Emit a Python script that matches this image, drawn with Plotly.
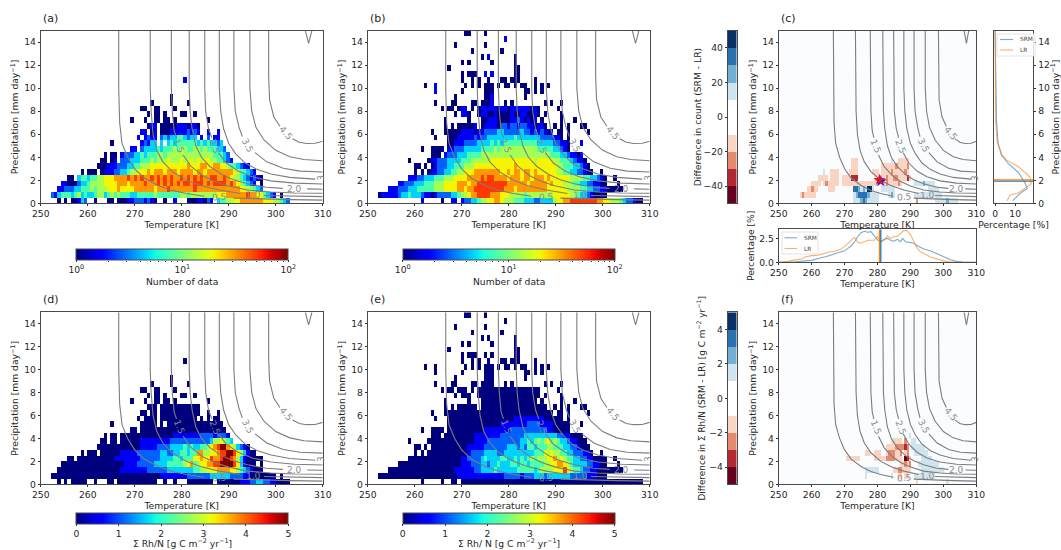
import numpy as np
import plotly.graph_objects as go

W, H = 1061, 550
N_COLS, N_ROWS = 85, 30
T_MIN, T_MAX, P_MIN, P_MAX = 250, 310, 0, 15
TEMP_TICKS = [250, 260, 270, 280, 290, 300, 310]
PREC_TICKS = [0, 2, 4, 6, 8, 10, 12, 14]

# heat map rows: (row of 0.5 mm/day, first 0.706 K column, level digit per cell, '.' = empty); later entries overwrite
A_ROWS = [
 (21,43,"1"),(18,39,"0"),(17,33,"0.....0....0"),(16,30,"00..00....0"),
 (15,32,"0.00.0....00..0"),(14,27,"0...0..00.00.0.........0"),
 (13,32,"011.000001110110"),(12,30,"11.01.000111112121..1..1"),
 (11,29,"1.1211.23233443233.1.2.11"),(10,21,"0........12133.3.34344444434343323"),
 (9,27,"11.23333434445455445545444332"),
 (8,19,"0.00.122233434445545555555555555544432"),
 (7,18,"00.01.2223334445455565556556565665544321"),
 (6,17,"0001112223344555666666666667666776677665443211"),
 (5,12,"0.000.01112233455666767776777677776776777777776544321"),
 (4,8,"00.34434455666777787878778787878778787878778877876554321210"),
 (3,6,"11000233455556666777677778777878787878878887878888787654321.0"),
 (2,5,"11222334445455566676666777777677787777777877777777777776655432"),
 (1,3,"213444345343345534545444334444454444444554555555556667777778776643 21.0".replace(" ","")),
 (0,5,"0.0.00132..0...00.000112221210..0..1...00011021.3445566777777766655432"),
]
B_ROWS = [
 (29,29,"00....0"),(28,41,"1"),(27,26,"0........0"),(26,31,"0........0"),(25,34,"0.1.......0"),
 (24,28,"0.0......0......0"),(23,24,"0...................00"),(22,28,"0.000..1.1......00"),
 (21,28,"0..0.0..0...00.000....0"),(20,17,"0..1........0.0.0.000.0.00.0.00..0.0.0"),
 (19,20,"1.......0......000.........00.0.0"),(18,26,"0........001.........0"),
 (17,20,"0....00....00.0001...0.0.........0.0..0"),
 (16,22,"0.00.011.0.0111110110111111010.....0"),
 (15,26,"0.110..0110010000100110010.0....0"),
 (14,23,"0......0...00111000011210101.0.....0...0"),
 (13,23,"0.0.000001.01111022122122110110..0.0.0...00"),
 (12,19,"0...000001111011222233222223221212101.00.0.....0"),
 (11,20,"0...00011111212233333333433333332222110.0"),
 (10,24,"0011122223333434344444444443333322110...1"),
 (9,16,"0..0000.1122233333444454555555555554444433210"),
 (8,19,"000.122233344445555555555555555555554443321101"),
 (7,12,"0.....011222333344455555566666666666665666665544432110"),
 (6,14,"00.0.012223344455566666666666676666666666665544433210"),
 (5,14,"0.0.01122334455666777777776676776776766666655443322100..0"),
 (4,12,"111223334445556666777777777777777767767776766666655554433210..0"),
 (3,9,"112223334445556666777777777777777776777677777676665554433221100...0"),
 (2,6,"11122233344444555666677777777777777776777777777766666655554433221100000"),
 (1,3,"011111233433321101222233445566777777766655554555555556666655433210000"),
 (0,16,"1.....0..11.1223345566776555444333223333566778888888877665554322100"),
 (4,31,"7778788777767"),(3,30,"677888888888777"),(2,29,"6778888888887776"),(1,28,"55677888877766655"),
]
D_HOT = [
 (8,40,"11111111222212221110"),
 (7,36,"1112222222222223556543"),(7,30,"111111"),
 (6,30,"11111222233334343"),(6,47,"344567899765321"),
 (5,24,"11111222222233223344344"),(5,47,"7755667889986531"),(5,63,"0"),
 (4,22,"1111111122222233334434445566"),(4,46,"6676687789987531"),
 (3,25,"11112222233334444456745667"),(3,51,"78899998631"),
 (2,24,"111111112222223333333344556667"),(2,53,"77776654321"),
 (1,36,"11111111222222"),(1,50,"2333333222211"),
 (0,60,"11122332211"),
]
E_HOT = [
 (11,44,"111111111"),(10,40,"1111111122221111"),(9,35,"111111112222222222211"),
 (8,32,"11111111222222233333333332211"),
 (7,32,"11112222222222334345"),(7,52,"4564543"),(7,59,"3211"),
 (6,30,"1111122222223332324434445544433221"),
 (5,30,"122223333223333333334444"),(5,53,"656554"),(5,59,"433222110"),
 (4,28,"11222234333344334"),(4,45,"343454555667565443322110"),
 (3,28,"111222332334333443443444455667765433332211"),
 (2,26,"111111223333433333344444345"),(2,53,"555666"),(2,59,"865443221100"),
 (1,27,"111111111111"),(1,39,"112222212223332"),(1,54,"33333332222211100"),
]
# difference panels: letters are colour bands, a-d negative, A-D positive
C_ROWS = [
 (7,31,"aaa"),(7,48,"A"),(7,51,"aaaaa"),
 (6,31,"aaa"),(6,44,"aaaaaabaaaab"),
 (5,19,"A"),(5,22,"aaaa"),(5,30,"aaaa"),(5,40,"aaa"),(5,44,"aaaabaaaaaba"),
 (4,17,"aaaa"),(4,22,"aaaa"),(4,27,"aaaaccc"),(4,41,"aaaaabaabbaaaaca"),
 (3,14,"aaaa"),(3,19,"ab"),(3,21,"aaaaa"),(3,27,"aaaaaaaaaaaaaaaa"),(3,44,"aabaaaaba"),(3,58,"AAAABAAAA"),
 (2,12,"aabaa"),(2,21,"aaa"),(2,32,"CCBABADDA"),(2,44,"AAAAAA"),(2,64,"AAAAA"),
 (1,9,"abaaaaa"),(1,32,"ABCCCCBAAAA"),(1,47,"ABA"),(1,58,"AAAAAAAAAAAA"),
 (0,32,"AAABCBAAAAA"),(0,59,"b"),(0,67,"AAAAABAAAA"),
]
F_ROWS = [
 (8,56,"A"),
 (7,48,"Aaaaa.b"),(7,57,"AA"),
 (6,46,"aaaabbbb"),(6,54,"cb"),(6,57,"AAAAAA"),
 (5,37,"aa"),(5,41,"aaa"),(5,46,"abbbaab"),(5,54,"ab"),(5,58,"AAAAAA"),
 (4,29,"aaaaaa"),(4,41,"aaaaabbbbaaa"),(4,54,"dca"),(4,61,"AAAAA"),
 (3,52,"aabab"),(3,60,"AAAAAAAAA"),
 (2,37,"AAAAAA"),(2,49,"aabbaaaa"),(2,61,"AAAAAAAAAA"),
 (1,37,"A"),(1,48,"A"),(1,51,"aa.aa"),(1,58,"AAAAAAAAA"),
 (0,59,"a"),(0,72,"A"),
]
DIFF_LEVELS = {"a":15,"b":25,"c":35,"d":45,"A":15,"B":25,"C":35,"D":45}
LEVEL_FRAC = [0,.11,.22,.33,.44,.55,.65,.75,.85,1]

CONT_05_T = [266.6,266.6,266.8,267.3,268.5,270,272,275,278,281,284.8,None,291,297,303,310]
CONT_05_P = [15,10,7,5.2,4,3,2.2,1.55,1.12,.85,.62,None,.45,.37,.32,.28]
CONT_10_T = [273.3,273.3,273.5,273.9,274.7,276,278,281,284,288,292.5,None,297.5,303,310]
CONT_10_P = [15,10,8,6,4.6,3.6,2.75,2,1.55,1.15,.85,None,.68,.62,.58]
CONT_15_T = [277.8,277.8,278,278.4,278.9,None,280.3,282,284.5,287,290,294,299,304,310]
CONT_15_P = [15,10,8,6.3,5.7,None,4.2,3.2,2.4,1.9,1.5,1.15,.98,.9,.87]
CONT_20_T = [281.6,281.6,281.8,282.2,283,284.2,286,288.5,291,294,298,301.5,None,306.7,310]
CONT_20_P = [15,10,8,6.5,5,4,3.2,2.5,2.05,1.7,1.4,1.3,None,1.25,1.22]
CONT_25_T = [284.9,284.9,285.1,285.7,286.4,None,287.8,289.5,292,295,299,304,310]
CONT_25_P = [15,10,8,6.5,5.7,None,4.4,3.5,2.8,2.3,1.95,1.75,1.68]
CONT_30_T = [288,288,288.3,288.9,290,291.5,293.5,296,299,303,308.4]
CONT_30_P = [15,10,8,6.5,5.2,4.3,3.5,2.95,2.55,2.25,2.1]
CONT_35_T = [291.1,291.1,291.4,292.2,292.9,None,295.6,298.1,301.6,305.2,310]
CONT_35_P = [15,10,8,6.6,5.8,None,4.4,3.6,3.04,2.8,2.72]
CONT_40_T = [294.5,294.5,294.9,295.8,297.5,300,303,306,310]
CONT_40_P = [15,10,8,6.6,5.5,4.6,4.05,3.8,3.7]
CONT_45_T = [298.5,298.5,298.7,299.6,300.9,None,303.6,305,306.6,308.4,310]
CONT_45_P = [15,11,9,7.5,6.7,None,5.6,5.3,5.2,5.22,5.4]
CONT_50_T = [306.3,307,307.7]
CONT_50_P = [15,13.9,15]
CONTOURS = [(CONT_05_T,CONT_05_P),(CONT_10_T,CONT_10_P),(CONT_15_T,CONT_15_P),(CONT_20_T,CONT_20_P),
            (CONT_25_T,CONT_25_P),(CONT_30_T,CONT_30_P),(CONT_35_T,CONT_35_P),(CONT_40_T,CONT_40_P),
            (CONT_45_T,CONT_45_P),(CONT_50_T,CONT_50_P)]
CONT_LABELS = ["0.5","1.0","1.5","2.0","2.5","3","3.5","4.5"]
LABEL_T = [288,295.2,279.5,304,287,309.6,294,302.2]
LABEL_P = [.52,.72,5,1.25,5,2.2,5.1,6.15]
LABEL_ANGLE = [-4,-3,68,0,68,-90,62,50]

MARG_T_SRM = [250,253,255,258,260,262,264,265,267,269,270,271,272,273,274,275,276,277,278,279,280,281,282,283,284,285,286,287,287.6,288.5,290,291,292,294,296,298,300,302,304,306,310]
MARG_SRM   = [0,.02,.06,.15,.2,.4,.55,.65,.9,1.05,1.2,1.45,1.7,2.1,2.7,3.1,3.25,3.15,3.2,2.8,2.35,2.15,2.4,2.5,2.3,2.2,2.4,2.15,2.5,2.15,2.1,2,1.75,1.4,1.2,.9,.55,.3,.1,.02,0]
MARG_T_LR  = [250,253,255,257,258,260,262,264,265,267,269,271,272,273,274,275,277,279,280,281,282,283,284,285,286,287,288,289,290,291,292,293,294,296,298,300,302,304,310]
MARG_LR    = [0,.1,.25,.35,.55,.7,.75,.95,1.05,1.15,1.4,1.95,2.3,2.6,2.1,2.0,2.3,2.3,2.7,2.2,2.3,2.75,2.5,2.7,2.7,3.0,3.35,3.3,2.9,2.2,1.5,1.1,.95,.55,.35,.15,.06,.02,0]
MARG_P_SRM = [.23,.84,1.28,1.8,2.7,3.46,4.2,5.2,7.2,11.6,15]
MARG_X_SRM = [8.7,12.3,16,14.8,11.5,6.5,3.2,1.5,.7,.15,0]
MARG_P_LR  = [.23,.7,.9,1.7,2.3,3.2,3.75,4.25,5.35,7.2,15]
MARG_X_LR  = [6,7.3,11.5,18,17.3,11.5,5.7,3.2,1,.3,0]
MEAN_T_SRM, MEAN_T_LR, MEAN_P_SRM, MEAN_P_LR = 281.0, 280.6, 1.92, 2.04

LOG_LABELS = ["10<sup>0</sup>","10<sup>1</sup>","10<sup>2</sup>"]
LOG_MINOR = [2,3,4,5,6,7,8,9,20,30,40,50,60,70,80,90]
RH_TICKS = [0,1,2,3,4,5]
DIFF_COLORS = ["#67001f","#b52733","#e58a6f","#fad4c2","#ffffff","#ffffff","#d0e4ef","#72afd5","#2b70b1","#083068"]
DIFF_EDGES = [-50,-40,-30,-20,-10,0,10,20,30,40,50]

TXT = "#262626"
FONT = "DejaVu Sans"
FS = 9.2
CONT_COL = "#7d7d7d"
SRM_COL, LR_COL = "#1f77b4", "#ff7f0e"
SRM_A, LR_A = "rgba(31,119,180,.62)", "rgba(255,127,14,.62)"


def jet_scale():
    r = [(0,0),(.35,0),(.66,1),(.89,1),(1,.5)]
    g = [(0,0),(.125,0),(.375,1),(.64,1),(.91,0),(1,0)]
    b = [(0,.5),(.11,1),(.34,1),(.65,0),(1,0)]
    out = []
    for s in np.linspace(0, 1, 41):
        c = [np.interp(s, *zip(*ch)) for ch in (r, g, b)]
        out.append([float(s), "rgb(%d,%d,%d)" % tuple(int(255*v) for v in c)])
    return out


def decode(rows):
    z = [[None]*N_COLS for _ in range(N_ROWS)]
    for r, start, s in rows:
        for i, ch in enumerate(s):
            if ch != "." and start+i < N_COLS:
                if ch.isdigit():
                    z[r][start+i] = LEVEL_FRAC[int(ch)]
                else:
                    v = DIFF_LEVELS[ch]
                    z[r][start+i] = -v if ch.islower() else v
    return z


def lowest(rows):
    # cells of the same footprint that read as the lowest colour level
    return [(r, st, "".join("." if c == "." else "0" for c in s)) for r, st, s in rows]


T_CENTERS = [T_MIN+(i+.5)*(T_MAX-T_MIN)/N_COLS for i in range(N_COLS)]
P_CENTERS = [(j+.5)*(P_MAX-P_MIN)/N_ROWS for j in range(N_ROWS)]

def clip_to(rows, footprint):
    base = decode(footprint); hot = decode(rows)
    return [[h if (h is not None and b is not None) else b for h, b in zip(hr, br)] for hr, br in zip(hot, base)]

fig = go.Figure()
lay = dict(width=W, height=H, margin=dict(l=0, r=0, t=0, b=0, autoexpand=False), paper_bgcolor="white",
           plot_bgcolor="white", showlegend=False, font=dict(family=FONT, size=FS, color=TXT),
           annotations=[], shapes=[])

def px(x0, x1): return [x0/W, x1/W]
def py(y0, y1): return [1-y1/H, 1-y0/H]
AX = dict(showgrid=False, zeroline=False, showline=True, mirror=True, linecolor="#4a4a4a", linewidth=1,
          ticks="outside", ticklen=2, tickwidth=.8, tickcolor="#333", automargin=False,
          tickfont=dict(size=FS, family=FONT, color=TXT))

_n = [0]
def axes(xdom, ydom, xargs, yargs):
    _n[0] += 1
    k = _n[0]
    xa, ya = f"x{k}", f"y{k}"
    lay[f"xaxis{k}"] = dict(AX, domain=px(*xdom), anchor=ya, **xargs)
    lay[f"yaxis{k}"] = dict(AX, domain=py(*ydom), anchor=xa, **yargs)
    return xa, ya

def ttl(text, st, size=FS):
    return dict(text=text, standoff=st, font=dict(size=size, family=FONT, color=TXT))

PREC_T = "Precipitation [mm day<sup>−1</sup>]"
def main(xdom, ydom, letter):
    xa, ya = axes(xdom, ydom,
        dict(range=[T_MIN,T_MAX], tickvals=TEMP_TICKS, title=ttl("Temperature [K]", 0)),
        dict(range=[P_MIN,P_MAX], tickvals=PREC_TICKS, title=ttl(PREC_T, 3)))
    lay["annotations"].append(dict(text=f"({letter})", x=xdom[0]/W, y=1-(ydom[0]-12.5)/H, xref="paper", yref="paper",
        xanchor="left", yanchor="middle", showarrow=False, font=dict(size=11, family=FONT, color=TXT)))
    return xa, ya

def contours(xa, ya):
    for (t, p) in CONTOURS:
        fig.add_trace(go.Scatter(x=t, y=p, mode="lines", xaxis=xa, yaxis=ya, hoverinfo="skip",
                                 line=dict(color=CONT_COL, width=1.1)))
    for s, t, p, ang in zip(CONT_LABELS, LABEL_T, LABEL_P, LABEL_ANGLE):
        lay["annotations"].append(dict(text=s, x=t, y=p, xref=xa, yref=ya, showarrow=False, textangle=ang,
                                       font=dict(size=9, family=FONT, color="#8a8a8a")))

JET = jet_scale()
def heat(z, xa, ya, cb):
    fig.add_trace(go.Heatmap(x=T_CENTERS, y=P_CENTERS, z=z, zmin=0, zmax=1, colorscale=JET, xaxis=xa, yaxis=ya,
                             hoverongaps=False, colorbar=cb, showscale=True))

def hbar(x0, x1, y0, y_title, title, log):
    cb = dict(orientation="h", x=x0/W, xanchor="left", y=1-y0/H, yanchor="top", len=x1-x0, lenmode="pixels",
              thickness=10.7, thicknessmode="pixels", xpad=0, ypad=0, outlinewidth=1, outlinecolor="#4a4a4a",
              ticks="outside", ticklen=2, tickwidth=.8, tickcolor="#333",
              tickfont=dict(size=FS, family=FONT, color=TXT))
    lay["annotations"].append(dict(text=title, x=(x0+x1)/2/W, y=1-y_title/H, xref="paper", yref="paper", showarrow=False,
                                   xanchor="center", yanchor="middle", font=dict(size=FS, family=FONT, color=TXT)))
    if log:
        vals, texts = [0, .5, 1], LOG_LABELS
        # minor ticks of the log colour bar, on an axis of their own
        xa, ya = axes((x0, x1), (y0, y0+10.7),
                      dict(type="log", range=[0,2], showline=False, mirror=False, showticklabels=False, ticks="",
                           minor=dict(ticks="outside", ticklen=1.5, tickwidth=.7, tickcolor="#333", tickvals=LOG_MINOR)),
                      dict(range=[0,1], visible=False))
        fig.add_trace(go.Scatter(x=[2], y=[.5], mode="markers", opacity=0, xaxis=xa, yaxis=ya, hoverinfo="skip"))
    else:
        vals = [v/5 for v in RH_TICKS]; texts = [str(v) for v in RH_TICKS]
    cb.update(tickmode="array", tickvals=vals, ticktext=texts)
    return cb

DIFF_SCALE = []
for i, c in enumerate(DIFF_COLORS):
    DIFF_SCALE += [[i/10, c], [(i+1)/10, c]]

def diff_heat(rows, xa, ya, vmax):
    z = decode(rows)
    z = [[None if v is None else v*vmax/50 for v in row] for row in z]
    lay["shapes"].append(dict(type="rect", xref=f"{xa} domain", yref=f"{ya} domain", x0=0, x1=1, y0=0, y1=1,
                              fillcolor="#fafcfe", line=dict(width=0), layer="below"))
    fig.add_trace(go.Heatmap(x=T_CENTERS, y=P_CENTERS, z=z, zmin=-vmax, zmax=vmax, colorscale=DIFF_SCALE, xaxis=xa, yaxis=ya,
                             hoverongaps=False, showscale=False))

def diff_bar(ydom, vmax, ticks, title, st, size=FS):
    xa, ya = axes((727.7,736.7), ydom, dict(range=[0,1], showticklabels=False, ticks=""),
                  dict(range=[-vmax,vmax], tickvals=ticks, title=ttl(title, st, size)))
    edges = [e*vmax/50 for e in DIFF_EDGES]
    cen = [(a+b)/2 for a, b in zip(edges[:-1], edges[1:])]
    fig.add_trace(go.Heatmap(x=[.5], y=cen, z=[[c] for c in cen], zmin=-vmax, zmax=vmax, colorscale=DIFF_SCALE,
                             xaxis=xa, yaxis=ya, showscale=False, hoverinfo="skip"))

Y1 = (30.7,203.3); Y2 = (312.3,484.3)
XA = (40.7,322.7); XB = (367.7,649.7); XC = (778.7,976.3)

D_Z = clip_to(D_HOT, lowest(A_ROWS))
E_Z = clip_to(E_HOT, lowest(B_ROWS))

cb = hbar(76.3,288,249,281,"Number of data",True)
xa, ya = main(XA, Y1, "a"); heat(decode(A_ROWS), xa, ya, cb); contours(xa, ya)
cb = hbar(402.7,614.7,249,281,"Number of data",True)
xa, ya = main(XB, Y1, "b"); heat(decode(B_ROWS), xa, ya, cb); contours(xa, ya)
xa, ya = main(XC, Y1, "c")
diff_heat(C_ROWS, xa, ya, 50); contours(xa, ya)
fig.add_trace(go.Scatter(x=[MEAN_T_SRM], y=[MEAN_P_SRM], mode="markers", xaxis=xa, yaxis=ya, marker=dict(symbol="star", size=9, color="#2222dd")))
fig.add_trace(go.Scatter(x=[MEAN_T_LR], y=[MEAN_P_LR], mode="markers", xaxis=xa, yaxis=ya, marker=dict(symbol="star", size=9, color="#e0102a")))
cb = hbar(76.3,288,513,543,"Σ Rh/N [g C m<sup>−2</sup> yr<sup>−1</sup>]",False)
xa, ya = main(XA, Y2, "d"); heat(D_Z, xa, ya, cb); contours(xa, ya)
cb = hbar(402.7,614.7,513,543,"Σ Rh/ N [g C m<sup>−2</sup> yr<sup>−1</sup>]",False)
xa, ya = main(XB, Y2, "e"); heat(E_Z, xa, ya, cb); contours(xa, ya)
xa, ya = main(XC, Y2, "f"); diff_heat(F_ROWS, xa, ya, 5); contours(xa, ya)
diff_bar(Y1, 50, [-40,-20,0,20,40], "Difference in count (SRM - LR)", 0)
diff_bar(Y2, 5, [-4,-2,0,2,4], "Difference in Σ Rh/N (SRM - LR) [g C m<sup>−2</sup> yr<sup>−1</sup>]", 2, 8.9)

# bottom marginal
xa, ya = axes(XC, (229.3,262.3), dict(range=[T_MIN,T_MAX], tickvals=TEMP_TICKS, title=ttl("Temperature [K]", 0)),
              dict(range=[0,3.45], tickvals=[0,2.5], ticktext=["0.0","2.5"], title=ttl("Percentage [%]", 3)))
fig.add_trace(go.Scatter(x=MARG_T_SRM, y=MARG_SRM, mode="lines", xaxis=xa, yaxis=ya, line=dict(color=SRM_A, width=1.1), name="SRM"))
fig.add_trace(go.Scatter(x=MARG_T_LR, y=MARG_LR, mode="lines", xaxis=xa, yaxis=ya, line=dict(color=LR_A, width=1.1), name="LR"))
fig.add_trace(go.Scatter(x=[MEAN_T_LR,MEAN_T_LR], y=[0,3.45], mode="lines", xaxis=xa, yaxis=ya, line=dict(color=LR_COL, width=1.3)))
fig.add_trace(go.Scatter(x=[MEAN_T_SRM,MEAN_T_SRM], y=[0,3.45], mode="lines", xaxis=xa, yaxis=ya, line=dict(color=SRM_COL, width=1.3)))

# right marginal
xa, ya = axes((993.7,1033.3), Y1, dict(range=[-.7,19], tickvals=[0,10], title=ttl("Percentage [%]", 0)),
              dict(range=[P_MIN,P_MAX], tickvals=PREC_TICKS, side="right", title=ttl(PREC_T, 3)))
fig.add_trace(go.Scatter(x=MARG_X_SRM, y=MARG_P_SRM, mode="lines", xaxis=xa, yaxis=ya, line=dict(color=SRM_A, width=1.1), name="SRM"))
fig.add_trace(go.Scatter(x=MARG_X_LR, y=MARG_P_LR, mode="lines", xaxis=xa, yaxis=ya, line=dict(color=LR_A, width=1.1), name="LR"))
fig.add_trace(go.Scatter(x=[-.7,19], y=[MEAN_P_SRM]*2, mode="lines", xaxis=xa, yaxis=ya, line=dict(color=SRM_COL, width=1.3)))
fig.add_trace(go.Scatter(x=[-.7,19], y=[MEAN_P_LR]*2, mode="lines", xaxis=xa, yaxis=ya, line=dict(color=LR_COL, width=1.3)))

def legend_box(x0, y0, x1, y1, lx0, lx1, tx, ys):
    lay["shapes"].append(dict(type="rect", xref="paper", yref="paper", x0=x0/W, x1=x1/W, y0=1-y0/H, y1=1-y1/H,
                              fillcolor="rgba(255,255,255,.85)", line=dict(color="#dddddd", width=.8)))
    for y, col, s in zip(ys, (SRM_A, LR_A), ("SRM", "LR")):
        lay["shapes"].append(dict(type="line", xref="paper", yref="paper", x0=lx0/W, x1=lx1/W, y0=1-y/H, y1=1-y/H,
                                  line=dict(color=col, width=1.1)))
        lay["annotations"].append(dict(text=s, xref="paper", yref="paper", x=tx/W, y=1-y/H, xanchor="left", yanchor="middle",
                                       showarrow=False, font=dict(size=5.8, family=FONT, color="#444")))
legend_box(782,232,818,254, 784.5,797, 802, (237.8,248.5))
legend_box(997,34,1035,56, 1000,1013, 1018, (39.5,50))

fig.update_layout(**lay)
fig.write_html("out.html", config=dict(displayModeBar=False),
               post_script="document.body.style.margin='0';document.body.style.overflow='hidden';")
